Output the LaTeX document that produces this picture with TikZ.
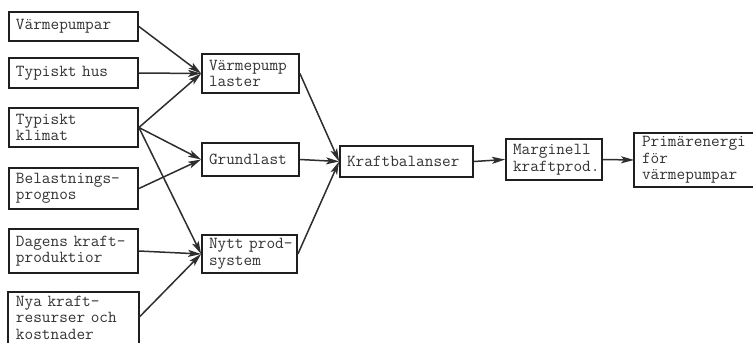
\documentclass[tikz,border=0pt]{standalone}
\usepackage{fontspec}
\usetikzlibrary{arrows.meta}
\newcommand\mybx[7][]{%
  \pgfmathsetmacro\bw{#5-#3}%
  \pgfmathsetmacro\bh{#6-#4}%
  \pgfmathsetmacro\tw{#5-#3-14}%
  \pgfmathsetmacro\cx{(#3+#5)/2}%
  \pgfmathsetmacro\cy{(#4+#6)/2}%
  \node[boxst, minimum width=\bw pt, minimum height=\bh pt, text width=\tw pt, #1] (#2) at (\cx,\cy) {#7};}
\tikzset{
  boxst/.style={draw=black!88, line width=1.8pt, inner xsep=7pt, inner ysep=0pt, align=left,
    font=\ttfamily\fontsize{16.8}{16.5}\selectfont\addfontfeatures{FakeBold=2}, text=black!80},
  frame/.style={draw=black!88, line width=1.8pt},
  arr/.style={draw=black!82, line width=1.5pt, -{Stealth[length=13pt,width=7pt,inset=3pt]}}
}
\begin{document}
\begin{tikzpicture}[x=1pt,y=-1pt]
\clip (0,0) rectangle (753,343);
\fill[white] (0,0) rectangle (753,343);
\mybx{A}{9}{12}{138}{41}{Värmepumpar}
\mybx{B}{9}{58}{138}{88}{Typiskt hus}
\mybx{C}{9}{108}{138}{147}{Typiskt\\klimat}
\mybx{D}{9}{168}{138}{209}{Belastnings-\\prognos}
\mybx{E}{9}{229}{138}{273}{\mbox{Dagens kraft-}\\produktior}
\mybx[draw=none]{F}{9}{293}{138}{342}{Nya kraft-\\resurser och\\kostnader}
\draw[frame] ([yshift=-3pt]F.south west) -- (F.north west) -- (F.north east) -- ([yshift=-3pt]F.south east);
\mybx{G}{202}{54}{299}{93}{Värmepump\\laster}
\mybx{H}{202}{143}{299}{176}{Grundlast}
\mybx{I}{202}{235}{297}{273}{\mbox{Nytt prod-}\\system}
\mybx{J}{340}{146}{473}{177}{Kraftbalanser}
\mybx{K}{506}{139}{602}{180}{Marginell\\\mbox{kraftprod.}}
\mybx[draw=none]{L}{635}{134}{752}{186}{Primärenergi\\för\\värmepumpar}
\draw[frame] ([xshift=3pt]L.north east) -- (L.north west) -- (L.south west) -- ([xshift=3pt]L.south east);
\draw[arr] (A.east) -- (G.west);
\draw[arr] (B.east) -- (G.west);
\draw[arr] (C.east) -- (G.west);
\draw[arr] (C.east) -- (H.west);
\draw[arr] (D.east) -- (H.west);
\draw[arr] (C.east) -- (I.west);
\draw[arr] (E.east) -- (I.west);
\draw[arr] (F.east) -- (I.west);
\draw[arr] (G.east) -- (J.west);
\draw[arr] (H.east) -- (J.west);
\draw[arr] (I.east) -- (J.west);
\draw[arr] (J.east) -- (K.west);
\draw[arr] (K.east) -- (L.west);
\end{tikzpicture}
\end{document}
